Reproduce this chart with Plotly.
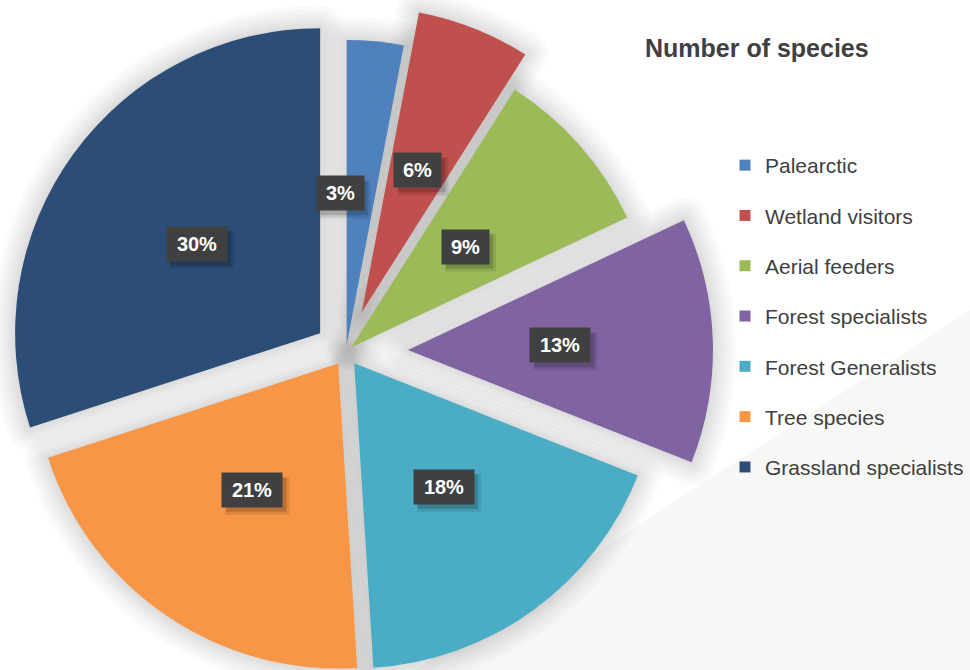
import math
import plotly.graph_objects as go

# Share of species per group (percent of all recorded species)
categories = ["Palearctic", "Wetland visitors", "Aerial feeders", "Forest specialists",
              "Forest Generalists", "Tree species", "Grassland specialists"]
shares = [3, 6, 9, 13, 18, 21, 30]

# Styling
colors = ["#4F81BD", "#C0504D", "#9BBB59", "#8064A2", "#4BACC6", "#F79646", "#2C4D75"]
explode_px = [7, 43, 7, 62, 14, 14, 32]          # how far each slice is pulled out
label_nudge_px = [-21, 0, 0, 0, 0, 0, 0]          # horizontal tweak of the value tags

W, H = 970, 670
CX, CY, R = 346, 352, 305
FONT = "Liberation Sans, Arial, sans-serif"
TEXT = "#404040"
CLEAR = "rgba(0,0,0,0)"

total = sum(shares)
mids, acc = [], 0
for v in shares:
    mids.append(2 * math.pi * (acc + v / 2) / total)
    acc += v


def slice_center(i):
    a = mids[i]
    return CX + explode_px[i] * math.sin(a), CY - explode_px[i] * math.cos(a)


def slice_domain(i):
    cx, cy = slice_center(i)
    return dict(x=[(cx - R) / W, (cx + R) / W], y=[1 - (cy + R) / H, 1 - (cy - R) / H])


fig = go.Figure()

# soft drop shadow: stacked translucent outlines behind each exploded slice
shadow_widths = [46, 38, 30, 23, 16, 10, 4]
for i in range(len(shares)):
    for w in shadow_widths:
        fig.add_trace(go.Pie(
            values=shares, labels=categories, sort=False, direction="clockwise", rotation=0,
            marker=dict(colors=[CLEAR] * len(shares),
                        line=dict(color="rgba(0,0,0,0.021)",
                                  width=[w if j == i else 0 for j in range(len(shares))])),
            textinfo="none", hoverinfo="skip", showlegend=False, domain=slice_domain(i),
        ))

# the slices themselves, each one drawn at its own exploded position
for i in range(len(shares)):
    fig.add_trace(go.Pie(
        values=shares, labels=categories, sort=False, direction="clockwise", rotation=0,
        marker=dict(colors=[colors[j] if j == i else CLEAR for j in range(len(shares))],
                    line=dict(width=0)),
        textinfo="none", hovertemplate="%{label}: %{value}%<extra></extra>",
        showlegend=False, domain=slice_domain(i),
    ))

# legend entries
for name, c in zip(categories, colors):
    fig.add_trace(go.Scatter(
        x=[None], y=[None], mode="markers", name=name, legendgroup=name,
        marker=dict(symbol="square", size=11, color=c),
    ))

# value tags: dark box with a soft drop shadow underneath
annotations, shapes = [], []
shapes.append(dict(type="path", xref="paper", yref="paper", layer="below",
                   path=f"M 1 {1 - 310 / H} L 1 0 L {415 / W} 0 Z",
                   fillcolor="#f7f7f5", line=dict(width=0)))
PAD, BOX_H = 4, 26
for i, v in enumerate(shares):
    cx, cy = slice_center(i)
    px = cx + 0.5 * R * math.sin(mids[i]) + label_nudge_px[i]
    py = cy - 0.5 * R * math.cos(mids[i])
    txt = f"{v}%"
    text_w = 13 * len(txt) + 13
    half_w = text_w / 2 + PAD
    half_h = BOX_H / 2 + PAD
    for dx, dy, grow, alpha in [(5, -6, 2, 0.10), (4, -5, 0, 0.16)]:
        shapes.append(dict(type="rect", xref="paper", yref="paper", layer="above",
                           xsizemode="pixel", ysizemode="pixel",
                           xanchor=px / W, yanchor=1 - py / H,
                           x0=-half_w + dx - grow, x1=half_w + dx + grow,
                           y0=-half_h + dy - grow, y1=half_h + dy + grow,
                           fillcolor=f"rgba(0,0,0,{alpha})", line=dict(width=0)))
    annotations.append(dict(text=f"<b>{txt}</b>", font=dict(family=FONT, size=20, color="white"),
                            bgcolor="#404040", x=px / W, y=1 - py / H, xref="paper", yref="paper",
                            showarrow=False, width=text_w, height=BOX_H, borderpad=PAD,
                            xanchor="center", yanchor="middle"))

fig.update_layout(
    width=W, height=H,
    margin=dict(l=0, r=0, t=0, b=0),
    paper_bgcolor="white", plot_bgcolor=CLEAR,
    xaxis=dict(visible=False), yaxis=dict(visible=False),
    title=dict(text="<b>Number of species</b>", font=dict(family=FONT, size=25, color=TEXT),
               x=645 / W, xanchor="left", xref="container",
               y=1 - 48 / H, yanchor="middle", yref="container"),
    legend=dict(x=(765 - 40) / W, xanchor="left", y=1 - 145 / H, yanchor="top",
                font=dict(family=FONT, size=21, color=TEXT), tracegroupgap=20,
                bgcolor=CLEAR, itemclick=False, itemdoubleclick=False),
    annotations=annotations,
    shapes=shapes,
    hovermode="closest",
)

fig.write_html("out.html")
